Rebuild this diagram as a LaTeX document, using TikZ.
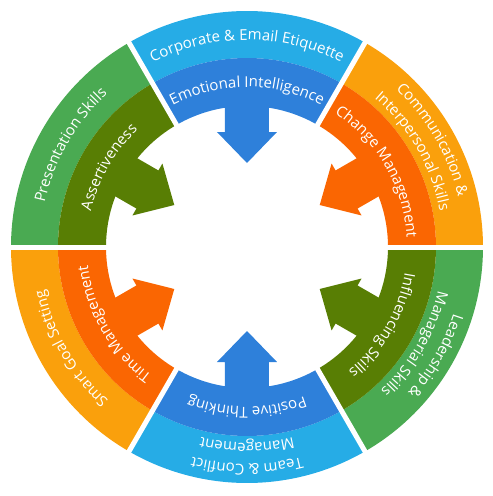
\documentclass[tikz,border=0pt]{standalone}
\usepackage{fontspec}
\newfontfamily\wheelfont{Open Sans}
\usetikzlibrary{decorations.text}
\definecolor{skyblue}{RGB}{38,172,230}
\definecolor{deepblue}{RGB}{46,128,218}
\definecolor{leafgreen}{RGB}{74,170,82}
\definecolor{olivegreen}{RGB}{88,126,4}
\definecolor{amber}{RGB}{250,160,12}
\definecolor{tangerine}{RGB}{250,102,2}
\tikzset{
  ringtext/.style={decorate,decoration={text along path,text align=center,
      text={|\wheelfont\fontsize{15}{17}\selectfont\color{white}|#1}}},
  gapline/.style={draw=white,line width=5pt}
}

\begin{document}
\begin{tikzpicture}[x=1pt,y=1pt]
\useasboundingbox (-247,-249) rectangle (246,247);

\begin{scope}
    \fill[skyblue]    (60:189) arc[start angle=60,end angle=120,radius=189] -- (120:236) arc[start angle=120,end angle=60,radius=236] -- cycle;
    \fill[leafgreen]  (120:189) arc[start angle=120,end angle=180,radius=189] -- (180:236) arc[start angle=180,end angle=120,radius=236] -- cycle;
    \fill[amber]      (180:189) arc[start angle=180,end angle=240,radius=189] -- (240:236) arc[start angle=240,end angle=180,radius=236] -- cycle;
    \fill[skyblue]    (240:189) arc[start angle=240,end angle=300,radius=189] -- (300:236) arc[start angle=300,end angle=240,radius=236] -- cycle;
    \fill[leafgreen]  (300:189) arc[start angle=300,end angle=360,radius=189] -- (0:236) arc[start angle=360,end angle=300,radius=236] -- cycle;
    \fill[amber]      (0:189) arc[start angle=0,end angle=60,radius=189] -- (60:236) arc[start angle=60,end angle=0,radius=236] -- cycle;

    \fill[deepblue]   (60:141) arc[start angle=60,end angle=120,radius=141] -- (120:189) arc[start angle=120,end angle=60,radius=189] -- cycle;
    \fill[olivegreen] (120:141) arc[start angle=120,end angle=180,radius=141] -- (180:189) arc[start angle=180,end angle=120,radius=189] -- cycle;
    \fill[tangerine]  (180:141) arc[start angle=180,end angle=240,radius=141] -- (240:189) arc[start angle=240,end angle=180,radius=189] -- cycle;
    \fill[deepblue]   (240:141) arc[start angle=240,end angle=300,radius=141] -- (300:189) arc[start angle=300,end angle=240,radius=189] -- cycle;
    \fill[olivegreen] (300:141) arc[start angle=300,end angle=360,radius=141] -- (0:189) arc[start angle=360,end angle=300,radius=189] -- cycle;
    \fill[tangerine]  (0:141) arc[start angle=0,end angle=60,radius=141] -- (60:189) arc[start angle=60,end angle=0,radius=189] -- cycle;
\end{scope}

\begin{scope}[rotate=90]
    \fill[deepblue] (150,22) -- (115,22) -- (115,30) -- (84,0) -- (115,-30) -- (115,-22) -- (150,-22) -- cycle;
\end{scope}
\begin{scope}[rotate=150]
    \fill[olivegreen] (150,22) -- (115,22) -- (115,30) -- (84,0) -- (115,-30) -- (115,-22) -- (150,-22) -- cycle;
\end{scope}
\begin{scope}[rotate=210]
    \fill[tangerine] (150,22) -- (115,22) -- (115,30) -- (84,0) -- (115,-30) -- (115,-22) -- (150,-22) -- cycle;
\end{scope}
\begin{scope}[rotate=270]
    \fill[deepblue] (150,22) -- (115,22) -- (115,30) -- (84,0) -- (115,-30) -- (115,-22) -- (150,-22) -- cycle;
\end{scope}
\begin{scope}[rotate=330]
    \fill[olivegreen] (150,22) -- (115,22) -- (115,30) -- (84,0) -- (115,-30) -- (115,-22) -- (150,-22) -- cycle;
\end{scope}
\begin{scope}[rotate=30]
    \fill[tangerine] (150,22) -- (115,22) -- (115,30) -- (84,0) -- (115,-30) -- (115,-22) -- (150,-22) -- cycle;
\end{scope}

\path[gapline] (0:130) -- (0:240);
\path[gapline] (60:130) -- (60:240);
\path[gapline] (120:130) -- (120:240);
\path[gapline] (180:130) -- (180:240);
\path[gapline] (240:130) -- (240:240);
\path[gapline] (300:130) -- (300:240);

\path[ringtext={Corporate {\&} Email Etiquette}] (120:207) arc[start angle=120,end angle=60,radius=207];
\path[ringtext={Emotional Intelligence}] (120:160) arc[start angle=120,end angle=60,radius=160];
\path[ringtext={Presentation Skills}] (180:207) arc[start angle=180,end angle=120,radius=207];
\path[ringtext={Assertiveness}] (180:160) arc[start angle=180,end angle=120,radius=160];
\path[ringtext={Smart Goal Setting}] (240:207) arc[start angle=240,end angle=180,radius=207];
\path[ringtext={Time Management}] (240:160) arc[start angle=240,end angle=180,radius=160];
\path[ringtext={Team {\&} Conflict}] (300:217) arc[start angle=300,end angle=240,radius=217];
\path[ringtext={Management}] (300:196) arc[start angle=300,end angle=240,radius=196];
\path[ringtext={Positive Thinking}] (300:160) arc[start angle=300,end angle=240,radius=160];
\path[ringtext={Leadership {\&}}] (360:217) arc[start angle=360,end angle=300,radius=217];
\path[ringtext={Managerial Skills}] (360:196) arc[start angle=360,end angle=300,radius=196];
\path[ringtext={Influencing Skills}] (360:160) arc[start angle=360,end angle=300,radius=160];
\path[ringtext={Communication {\&}}] (60:217) arc[start angle=60,end angle=0,radius=217];
\path[ringtext={Interpersonal Skills}] (60:196) arc[start angle=60,end angle=0,radius=196];
\path[ringtext={Change Management}] (60:160) arc[start angle=60,end angle=0,radius=160];
\end{tikzpicture}
\end{document}
